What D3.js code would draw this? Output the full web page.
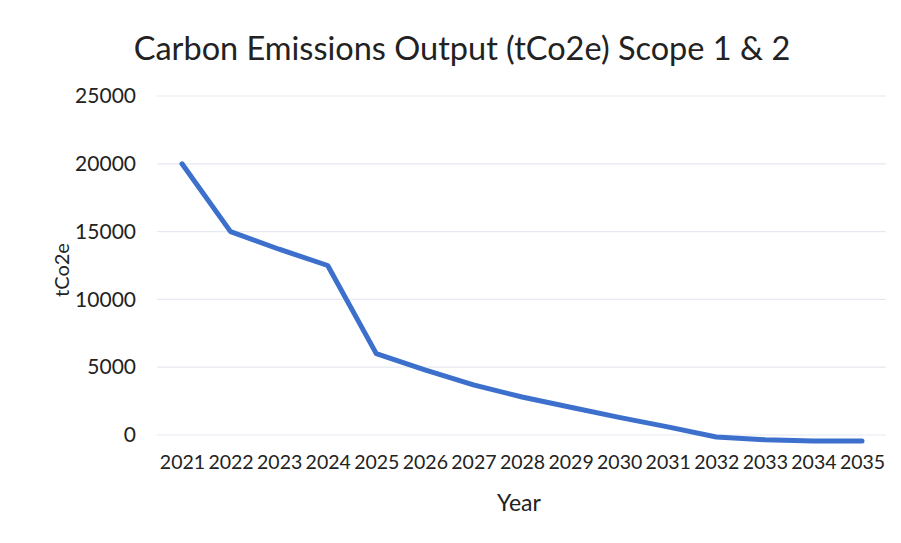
<!DOCTYPE html>
<html>
<head>
<meta charset="utf-8">
<script src="https://cdn.jsdelivr.net/npm/d3@7"></script>
<style>
  body { margin: 0; background: #fff; }
  text { font-family: Lato, "Open Sans", sans-serif; fill: #222; }
</style>
</head>
<body>
<div id="chart"></div>
<script>
"use strict";

var years = ["2021","2022","2023","2024","2025","2026","2027","2028","2029","2030","2031","2032","2033","2034","2035"];
var emissions = [20000, 15000, 13700, 12500, 6000, 4800, 3700, 2800, 2050, 1300, 600, -150, -350, -450, -450];
var y_ticks = [0, 5000, 10000, 15000, 20000, 25000];

var w = 901, h = 543;

var svg = d3.select("#chart")
    .append("svg")
    .attr("width", w)
    .attr("height", h);

var x = d3.scalePoint()
    .domain(years)
    .range([157.7, 886.3])
    .padding(0.5);

var y = d3.scaleLinear()
    .domain([0, 25000])
    .range([435, 96]);

// gridlines
svg.append("g")
    .selectAll("line")
    .data(y_ticks)
    .enter()
    .append("line")
    .attr("x1", 157)
    .attr("x2", 886)
    .attr("y1", function(d){ return y(d); })
    .attr("y2", function(d){ return y(d); })
    .attr("stroke", "#e6e9f1")
    .attr("stroke-width", 1.2);

// y tick labels
var yAxis = d3.axisLeft(y).tickValues(y_ticks).tickSize(0).tickPadding(0).tickFormat(d3.format("d"));
svg.append("g")
    .attr("transform", "translate(136,0)")
    .call(yAxis)
    .call(function(g){ g.select(".domain").remove(); })
    .selectAll("text")
    .style("font-size", "21px")
    .attr("fill", "#222");

// x tick labels
var xAxis = d3.axisBottom(x).tickSize(0).tickPadding(0);
svg.append("g")
    .attr("transform", "translate(0,455)")
    .call(xAxis)
    .call(function(g){ g.select(".domain").remove(); })
    .selectAll("text")
    .style("font-size", "19.5px")
    .attr("fill", "#222");

// line
var line = d3.line()
    .x(function(d,i){ return x(years[i]); })
    .y(function(d){ return y(d); });

svg.append("path")
    .datum(emissions)
    .attr("fill", "none")
    .attr("stroke", "#3d70cc")
    .attr("stroke-width", 5)
    .attr("stroke-linejoin", "round")
    .attr("stroke-linecap", "round")
    .attr("d", line);

// title
svg.append("text")
    .attr("x", 462)
    .attr("y", 60)
    .attr("text-anchor", "middle")
    .style("font-size", "32.5px")
    .text("Carbon Emissions Output (tCo2e) Scope 1 & 2");

// axis titles
svg.append("text")
    .attr("transform", "translate(69,270) rotate(-90)")
    .attr("text-anchor", "middle")
    .style("font-size", "20px")
    .text("tCo2e");

svg.append("text")
    .attr("x", 519)
    .attr("y", 511)
    .attr("text-anchor", "middle")
    .style("font-size", "23px")
    .text("Year");
</script>
</body>
</html>
